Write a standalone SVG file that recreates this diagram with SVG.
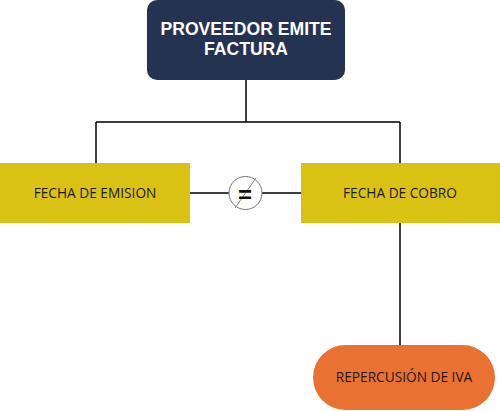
<svg xmlns="http://www.w3.org/2000/svg" width="500" height="411" viewBox="0 0 500 411">
<style>
.ln{stroke:#000;stroke-width:1.5;fill:none}
.lbl{font-family:"Open Sans","Liberation Sans",sans-serif;font-size:13.7px;fill:#1a1a1a;text-anchor:middle}
.ttl{font-family:"Liberation Sans",Arial,sans-serif;font-size:17.6px;font-weight:bold;fill:#fff;text-anchor:middle}
</style>
<rect width="500" height="411" fill="#fff"/>
<g id="connectors">
<path class="ln" d="M246 80V122M96 122H400M96 122V163M400 122V163M400 223V345M190 193H229M262 193H301"/>
</g>
<g id="n-proveedor">
<rect x="147" y="0" width="198" height="80" rx="10" fill="#253352"/>
<text class="ttl" x="246" y="35">PROVEEDOR EMITE</text>
<text class="ttl" x="246" y="55">FACTURA</text>
</g>
<g id="n-emision">
<rect x="0" y="163" width="190" height="60" fill="#d9c213"/>
<text class="lbl" x="95" y="198">FECHA DE EMISION</text>
</g>
<g id="n-cobro">
<rect x="301" y="163" width="199" height="60" fill="#d9c213"/>
<text class="lbl" x="400" y="198">FECHA DE COBRO</text>
</g>
<g id="n-neq">
<circle cx="245.5" cy="193" r="16.5" fill="#fff" stroke="#777" stroke-width="1"/>
<line x1="256" y1="178" x2="235" y2="208" stroke="#888" stroke-width="1"/>
<text x="245" y="203" font-family="Liberation Sans,Arial,sans-serif" font-size="24" font-weight="bold" text-anchor="middle" fill="#111">=</text>
</g>
<g id="n-iva">
<rect x="313" y="345" width="182" height="65" rx="32.5" fill="#e97132"/>
<text class="lbl" x="404" y="382">REPERCUSIÓN DE IVA</text>
</g>
</svg>
